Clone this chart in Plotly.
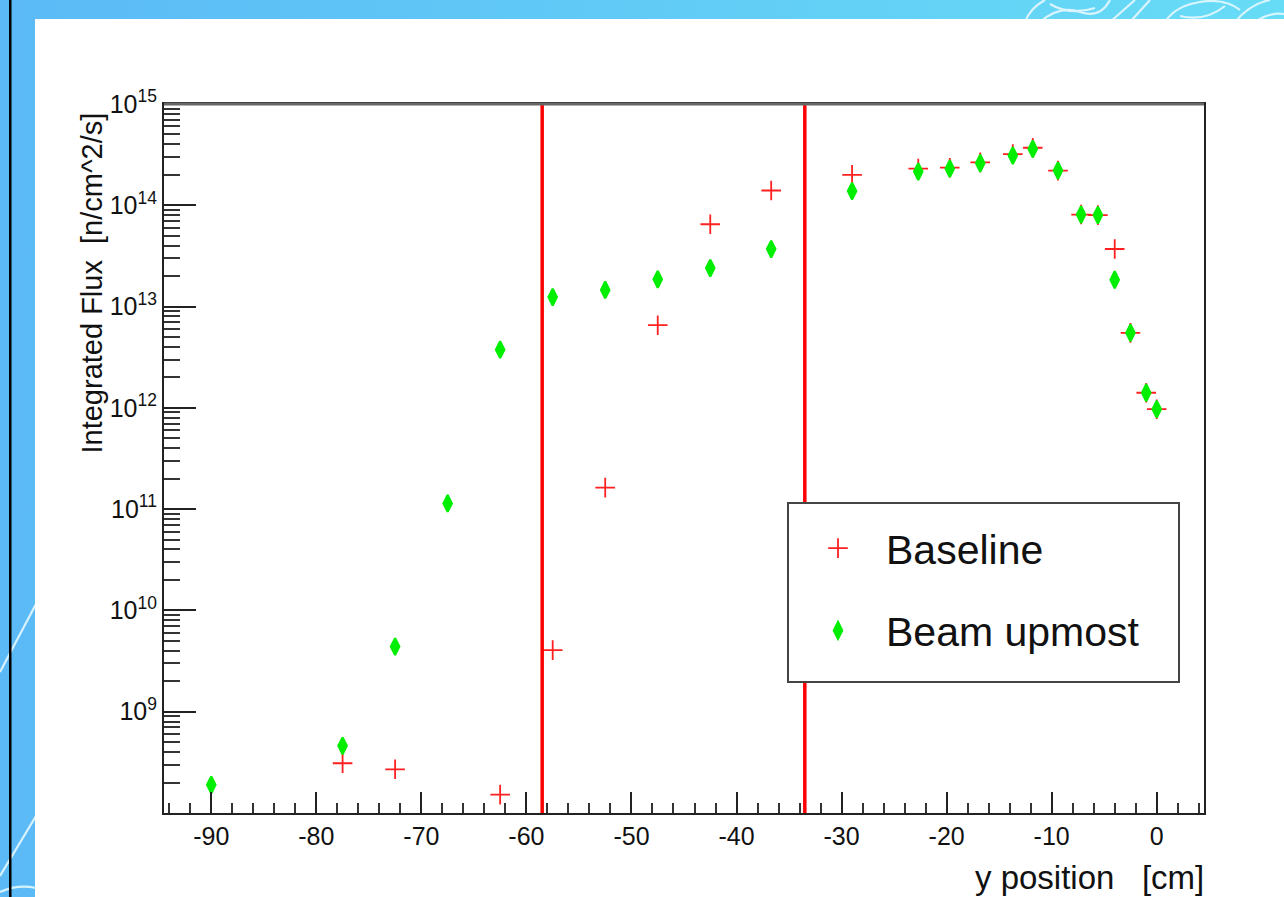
import base64
import plotly.graph_objects as go

# ---------------- data ----------------
y_position_baseline = [-77.5, -72.5, -62.5, -57.5, -52.5, -47.5, -42.5, -36.7, -29.0,
                       -22.7, -19.7, -16.8, -13.7, -11.8, -9.4, -7.2, -5.6, -4.0,
                       -2.5, -1.0, 0.0]
flux_baseline = [3.1e8, 2.7e8, 1.52e8, 4.06e9, 1.63e11, 6.55e12, 6.5e13, 1.4e14, 2.0e14,
                 2.3e14, 2.35e14, 2.65e14, 3.2e14, 3.7e14, 2.2e14, 8.1e13, 8.0e13, 3.7e13,
                 5.5e12, 1.41e12, 9.7e11]

y_position_upmost = [-90.0, -77.5, -72.5, -67.5, -62.5, -57.5, -52.5, -47.5, -42.5, -36.7,
                     -29.0, -22.7, -19.7, -16.8, -13.7, -11.8, -9.4, -7.2, -5.6, -4.0,
                     -2.5, -1.0, 0.0]
flux_upmost = [1.9e8, 4.6e8, 4.4e9, 1.14e11, 3.75e12, 1.24e13, 1.46e13, 1.86e13, 2.4e13,
               3.7e13, 1.38e14, 2.15e14, 2.3e14, 2.6e14, 3.1e14, 3.6e14, 2.2e14, 8.1e13,
               8.0e13, 1.84e13, 5.5e12, 1.41e12, 9.7e11]

cut_positions = [-58.5, -33.5]

x_tick_values = [-90, -80, -70, -60, -50, -40, -30, -20, -10, 0]
x_tick_labels = ["-90", "-80", "-70", "-60", "-50", "-40", "-30", "-20", "-10", "0"]
y_tick_values = [1e9, 1e10, 1e11, 1e12, 1e13, 1e14, 1e15]
y_tick_labels = ["10<sup>9</sup>", "10<sup>10</sup>", "10<sup>11</sup>", "10<sup>12</sup>",
                 "10<sup>13</sup>", "10<sup>14</sup>", "10<sup>15</sup>"]
y_minor_values = [k * 10.0 ** e for e in range(8, 15) for k in range(2, 10)]

series_names = ["Baseline", "Beam upmost"]
x_title = "y position\u00a0\u00a0\u00a0[cm]"
y_title = "Integrated Flux\u00a0\u00a0[n/cm^2/s]"

# ---------------- layout geometry ----------------
W, H = 1284, 897
L, R, T, B = 164, 80, 104, 84
PW, PH = W - L - R, H - T - B


def px(xp):
    return (xp - L) / PW


def py(yp):
    return (H - B - yp) / PH


FONT = "Liberation Sans, Arial, Helvetica, sans-serif"

# slide background as an SVG image
svg = f"""<svg xmlns="http://www.w3.org/2000/svg" width="{W}" height="{H}" viewBox="0 0 {W} {H}">
<defs><linearGradient id="g" x1="0" y1="0" x2="1" y2="0">
<stop offset="0" stop-color="#5bbaf6"/><stop offset="1" stop-color="#67dcf6"/></linearGradient></defs>
<rect width="{W}" height="{H}" fill="url(#g)"/>
<g stroke="#e6f8ff" stroke-width="2.2" fill="none" opacity="0.9">
<path d="M0,672 L36,604"/><path d="M0,876 L36,816"/><path d="M0,892 Q18,884 36,888"/>
<path d="M1025,22 Q1030,8 1045,0"/><path d="M1040,22 Q1060,5 1080,12 T1110,0"/>
<path d="M1050,4 Q1070,16 1095,8"/><path d="M1110,22 L1135,0"/><path d="M1130,22 L1150,0"/>
<path d="M1165,22 Q1175,6 1200,2 T1240,10"/><path d="M1180,16 Q1205,22 1225,6"/>
<path d="M1235,22 Q1250,4 1270,0"/><path d="M1255,22 Q1270,12 1284,14"/>
</g>
<rect x="35" y="19" width="{W - 35}" height="{H - 19}" fill="#ffffff"/>
<rect x="9" y="0" width="2.5" height="{H}" fill="#000000"/>
</svg>"""
svg_uri = "data:image/svg+xml;base64," + base64.b64encode(svg.encode()).decode()

fig = go.Figure()

fig.add_trace(go.Scatter(
    x=y_position_baseline, y=flux_baseline, mode="markers", name=series_names[0],
    legendgroup="a",
    marker=dict(symbol="cross-thin", size=14, color="#ff2020",
                line=dict(color="#ff2020", width=1.8)),
))
fig.add_trace(go.Scatter(
    x=y_position_upmost, y=flux_upmost, mode="markers", name=series_names[1],
    legendgroup="b",
    marker=dict(symbol="diamond-tall", size=12, color="#00ee00",
                line=dict(color="#00ee00", width=2.2)),
))

shapes = []
for cx in cut_positions:
    shapes.append(dict(type="line", xref="x", yref="paper", x0=cx, x1=cx, y0=0, y1=1,
                       line=dict(color="#ff0000", width=3.5), layer="above"))
# legend frame
shapes.append(dict(type="rect", xref="paper", yref="paper",
                   x0=px(788), x1=px(1179), y0=py(682), y1=py(503),
                   line=dict(color="#444444", width=2), fillcolor="#ffffff", layer="above"))
# ROOT-like heavier top frame edge
shapes.append(dict(type="line", xref="paper", yref="paper", x0=0, x1=1, y0=1, y1=1,
                   line=dict(color="#666666", width=3), layer="above"))

fig.update_layout(
    width=W, height=H,
    margin=dict(l=L, r=R, t=T, b=B),
    paper_bgcolor="#ffffff", plot_bgcolor="#ffffff",
    font=dict(family=FONT, color="#111111"),
    showlegend=True,
    legend=dict(x=px(790), y=py(515), xanchor="left", yanchor="top",
                bgcolor="rgba(0,0,0,0)", borderwidth=0,
                font=dict(size=41, family=FONT, color="#111111"),
                itemwidth=86, tracegroupgap=26),
    shapes=shapes,
    images=[dict(source=svg_uri, xref="paper", yref="paper", x=px(0), y=py(0),
                 sizex=W / PW, sizey=H / PH, xanchor="left", yanchor="top",
                 sizing="stretch", layer="below")],
    annotations=[
        dict(text=x_title, xref="paper", yref="paper", x=px(1206), y=py(877),
             xanchor="right", yanchor="middle", showarrow=False,
             font=dict(size=33, family=FONT, color="#111111")),
        dict(text=y_title, xref="paper", yref="paper", x=px(91), y=py(111),
             xanchor="center", yanchor="top", textangle=-90, showarrow=False,
             font=dict(size=29, family=FONT, color="#111111")),
    ],
)

fig.update_xaxes(
    range=[-94.5, 4.5], showgrid=False, zeroline=False,
    showline=True, linecolor="#222222", linewidth=2, mirror=True,
    tickmode="array", tickvals=x_tick_values, ticktext=x_tick_labels,
    ticks="inside", ticklen=21, tickwidth=2, tickcolor="#222222",
    tickfont=dict(size=25, family=FONT, color="#111111"),
    minor=dict(tickmode="linear", tick0=0, dtick=2, ticks="inside", ticklen=10,
               tickwidth=1.6, tickcolor="#333333"),
)
fig.update_yaxes(
    type="log", range=[8, 15], showgrid=False, zeroline=False,
    showline=True, linecolor="#222222", linewidth=2, mirror=True,
    tickmode="array", tickvals=y_tick_values, ticktext=y_tick_labels,
    ticks="inside", ticklen=32, tickwidth=2, tickcolor="#222222",
    tickfont=dict(size=25, family=FONT, color="#111111"),
    minor=dict(tickmode="array", tickvals=y_minor_values, ticks="inside", ticklen=16,
               tickwidth=1.6, tickcolor="#333333"),
)

fig.write_html("out.html", config={"displayModeBar": False},
               post_script="document.body.style.margin='0';document.body.style.overflow='hidden';")
